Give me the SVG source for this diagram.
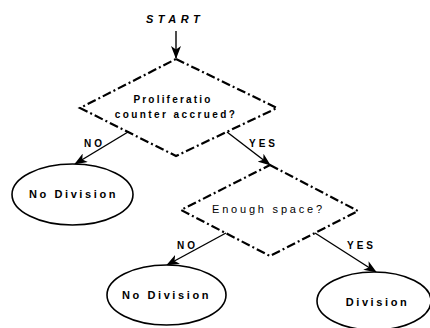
<svg xmlns="http://www.w3.org/2000/svg" width="430" height="328" viewBox="0 0 430 328">
<style>
.dia{fill:none;stroke:#000;stroke-width:2.2;stroke-dasharray:9 3 2 3;stroke-linejoin:miter}
.ell{fill:#fff;stroke:#000;stroke-width:1.6}
.con{fill:none;stroke:#000;stroke-width:1.4;marker-end:url(#ah)}
text{font-family:"Liberation Sans",Arial,Helvetica,sans-serif;fill:#000}
.b{font-weight:bold}
.lab{font-size:10px;font-weight:bold;letter-spacing:3px}
.nd{font-size:11px;font-weight:bold;letter-spacing:2.6px;text-anchor:middle}
</style>
<defs>
<marker id="ah" viewBox="0 0 13 10" refX="12" refY="5" markerWidth="13" markerHeight="10" markerUnits="userSpaceOnUse" orient="auto">
<path d="M0,0 L13,5 L0,10 L3.5,5 Z" fill="#000"/>
</marker>
</defs>
<rect width="430" height="328" fill="#fff"/>
<g id="start">
<text x="146" y="23" font-size="11" font-weight="bold" font-style="italic" letter-spacing="4.5">START</text>
</g>
<g id="connectors">
<line class="con" x1="176" y1="31" x2="176" y2="58"/>
<line class="con" x1="128" y1="132" x2="75" y2="164"/>
<line class="con" x1="227" y1="132" x2="270" y2="165"/>
<line class="con" x1="226" y1="233" x2="167" y2="265"/>
<line class="con" x1="315" y1="233" x2="376" y2="272"/>
<text class="lab" x="84" y="147">NO</text>
<text class="lab" x="249" y="147">YES</text>
<text class="lab" x="177" y="249">NO</text>
<text class="lab" x="347" y="249">YES</text>
</g>
<g id="proliferation">
<polygon class="dia" points="176,59 277,108 176,156 80,108"/>
<text x="173" y="103" font-size="10" class="b" letter-spacing="2.2" text-anchor="middle">Proliferatio</text>
<text x="176" y="118" font-size="10" class="b" letter-spacing="2.4" text-anchor="middle">counter accrued?</text>
</g>
<g id="nodiv1">
<ellipse class="ell" cx="72.5" cy="194.5" rx="60.5" ry="30.5"/>
<text class="nd" x="73.5" y="198">No Division</text>
</g>
<g id="space">
<polygon class="dia" points="270,165 358,211 270,256 181,210"/>
<text x="212" y="213" font-size="11" letter-spacing="2.8">Enough space?</text>
</g>
<g id="nodiv2">
<ellipse class="ell" cx="166.5" cy="295" rx="59.5" ry="30"/>
<text class="nd" x="166.5" y="299">No Division</text>
</g>
<g id="div">
<ellipse class="ell" cx="374" cy="301" rx="57" ry="29"/>
<text class="nd" x="377.5" y="306">Division</text>
</g>
</svg>
